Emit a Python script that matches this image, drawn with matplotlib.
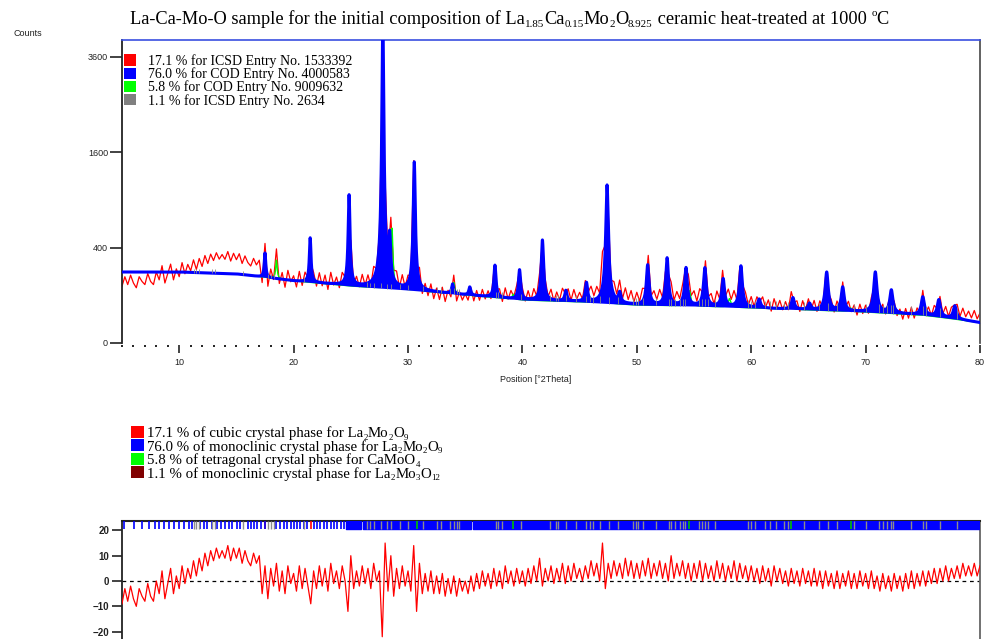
import re
import numpy as np
import matplotlib
matplotlib.use("Agg")
import matplotlib.pyplot as plt
from matplotlib.patches import Rectangle
from matplotlib.ticker import MultipleLocator, FixedLocator

SERIF = "Liberation Serif"
SANS = "Liberation Sans"
FIG_W, FIG_H = 987, 639


# ================= DATA =================
# refined background (counts) at a few positions
bg_pos = [5, 10, 15, 20, 25, 30, 35, 40, 45, 50, 55, 60, 65, 70, 75, 80]
bg_counts = [221, 221, 209, 169, 142, 123, 101, 81, 74, 63, 60, 54, 48, 42, 34, 18]

# monoclinic La2Mo2O9 (blue) peaks: position, net counts above background
mono_pos = [17.5, 21.45, 24.85, 27.8, 28.4, 30.55, 33.9, 35.4, 37.6, 39.75,
            41.75, 43.8, 45.6, 47.4, 48.5, 50.95, 52.65, 54.3, 55.95, 57.55,
            59.1, 60.7, 63.65, 65.1, 66.6, 68.0, 70.85, 72.25, 75.0, 76.4, 77.8]
mono_net = [166, 323, 818, 4470, 340, 1314, 45, 37, 174, 152,
            386, 44, 85, 1026, 40, 204, 255, 187, 188, 123,
            205, 30, 40, 20, 174, 92, 180, 84, 59, 52, 35]

# tetragonal CaMoO4 (green) peaks
camoo4_pos = [18.5, 28.6, 30.8, 34.0, 39.2, 47.1, 54.6, 58.1, 63.5, 68.7]
camoo4_net = [120, 450, 70, 55, 20, 110, 60, 30, 15, 10]

# reflection markers
cubic_refl = [17.52, 21.49, 24.87, 27.86, 30.58, 35.46, 37.69, 39.81, 41.84,
              43.80, 45.68, 47.51, 51.02, 52.70, 54.36, 55.98, 57.57, 59.13,
              60.66, 63.66, 65.14, 66.59, 68.03, 70.87, 72.27, 75.04, 76.42, 77.78]
mono_refl = [5.15, 6.08, 6.75, 7.33, 7.92, 8.21, 8.65, 9.14, 9.52, 10.02,
             10.40, 10.83, 11.12, 11.85, 12.20, 12.44, 12.87, 13.31, 13.66, 14.04,
             14.33, 14.62, 15.06, 15.35, 15.99, 16.29, 16.52, 16.81, 17.16, 17.54,
             18.50, 18.85, 19.14, 19.44, 19.73, 20.02, 20.31, 20.60, 20.89, 21.19,
             21.77, 22.06, 22.35, 22.64, 22.94, 23.23, 23.52, 23.81, 24.10, 24.39]
mono_dense = [(24.6, 1.3), (26.05, 9.45), (35.7, 44.3)]  # (start, width)
lmo_refl = [11.3, 11.5, 11.7, 12.9, 13.1, 15.6, 17.8, 18.0, 18.3, 20.9,
            26.4, 26.7, 27.0, 27.6, 28.2, 28.5, 29.3, 30.0, 31.3, 32.5,
            32.9, 33.7, 34.0, 34.3, 34.5, 37.7, 37.9, 38.2, 39.9, 42.4,
            42.9, 43.1, 43.8, 44.7, 45.6, 45.9, 46.2, 46.8, 47.6, 48.4,
            49.7, 49.9, 50.1, 50.5, 51.7, 52.8, 53.0, 53.3, 53.8, 54.0,
            54.2, 55.4, 55.7, 56.0, 56.2, 56.8, 59.7, 60.0, 60.3, 61.2,
            61.6, 62.2, 62.9, 63.2, 64.6, 65.9, 66.7, 67.5, 69.0, 70.0,
            71.2, 71.5, 71.9, 72.2, 72.4, 74.0, 75.0, 75.3, 76.5, 78.0]
lmo_net = 25
camoo4_refl = [30.8, 39.2, 54.6, 63.5, 68.7]

# difference plot, every 0.25 deg from 5 to 80
resid = [
    -9, -3, -8, -2, -7, -10, -3, -6, -8, -1, -6, -8, 0, -5, 4, -7, -1, 5, -5, 2,
    -3, 6, -1, 5, 1, 8, 2, 9, 4, 11, 6, 12, 8, 13, 9, 12, 9, 14, 8, 13,
    9, 13, 7, 12, 8, 6, 11, 7, 10, -5, 6, -7, 5, -2, 7, -4, 4, -5, 6, -1,
    3, -4, 6, -3, 5, -2, -9, 4, -3, 6, -2, 5, -4, 7, -1, 4, -3, 6, 0, -12,
    10, -3, 4, -2, 6, -1, 5, -3, 7, 0, 4, -22, 15, -4, 10, -6, 5, -3, 6, -2,
    4, -4, 14, -12, 7, -5, 3, -4, 4, -5, 2, -5, 3, -6, 1, -5, 2, -6, 1, -4,
    0, -5, 2, -4, 3, -3, 4, -2, 3, -3, 5, -2, 4, -3, 6, -1, 4, -2, 5, -1,
    4, -2, 5, -1, 6, 0, 9, -2, 5, 0, 6, -1, 5, 0, 7, -1, 6, 0, 7, 1,
    5, 0, 6, 1, 8, 2, 7, 0, 15, -3, 7, 1, 8, 2, 7, 1, 9, 2, 8, 1,
    7, 1, 8, 2, 9, 1, 7, 2, 8, 1, 7, 0, 10, 1, 7, 2, 8, 1, 7, 0,
    7, 1, 8, 0, 7, 1, 6, 0, 8, 1, 7, 0, 6, 1, 8, 0, 7, 1, 6, 0,
    6, 0, 5, -1, 6, 0, 5, -2, 6, 0, 5, -1, 4, -2, 5, -1, 4, -2, 5, -1,
    4, -2, 5, -2, 4, -3, 4, -2, 3, -3, 4, -3, 3, -2, 4, -3, 3, -3, 4, -2,
    3, -3, 4, -3, 2, -4, 3, -3, 2, -4, 3, -3, 2, -4, 3, -3, 4, -3, 3, -2,
    4, -2, 4, -1, 5, -1, 5, 0, 6, 0, 5, 1, 6, 1, 7, 2, 6, 2, 7, 2,
    6,
]

title = ("La-Ca-Mo-O sample for the initial composition of "
         "La_{1.85}Ca_{0.15}Mo_{2}O_{8.925} ceramic heat-treated at 1000 ^{o}C")
top_legend = [
    ("#ff0000", "17.1 % for ICSD Entry No. 1533392"),
    ("#0000ff", "76.0 % for COD Entry No. 4000583"),
    ("#00ff00", "5.8 % for COD Entry No. 9009632"),
    ("#808080", "1.1 % for ICSD Entry No. 2634"),
]
phase_legend = [
    ("#ff0000", "17.1 % of cubic crystal phase for La_{2}Mo_{2}O_{9}"),
    ("#0000ff", "76.0 % of monoclinic crystal phase for La_{2}Mo_{2}O_{9}"),
    ("#00ff00", "5.8 % of tetragonal crystal phase for CaMoO_{4}"),
    ("#800000", "1.1 % of monoclinic crystal phase for La_{2}Mo_{3}O_{12}"),
]


# ================= PATTERN =================
def peak_sum(x, pos, net):
    total = np.zeros_like(x)
    for p, h in zip(pos, net):
        hw = 0.05 + 0.00125 * p
        total += h / (1 + ((x - p) / hw) ** 2)
    return total


two_theta = np.linspace(5, 80, 6001)
background = np.interp(two_theta, bg_pos, bg_counts)
blue_calc = background + peak_sum(two_theta, mono_pos, mono_net)
green_calc = background + peak_sum(two_theta, camoo4_pos, camoo4_net)

# observed profile at the difference-plot steps
resid = np.array(resid, dtype=float)
resid_x = 5 + 0.25 * np.arange(len(resid))
calc_at_steps = (np.interp(resid_x, bg_pos, bg_counts)
                 + peak_sum(resid_x, mono_pos, mono_net)
                 + peak_sum(resid_x, camoo4_pos, camoo4_net))
observed = (np.sqrt(calc_at_steps) + 0.33 * resid) ** 2


# ================= FIGURE =================
fig = plt.figure(figsize=(FIG_W / 100, FIG_H / 100), dpi=100)
renderer = fig.canvas.get_renderer()


def rich_text(x_px, base_px, text, size, family=SERIF):
    # plain text with small sub/superscripts, laid out piece by piece
    x = x_px
    for piece in re.split(r"([_^]\{[^}]*\})", text):
        if not piece:
            continue
        fs, dy = size, 0.0
        if piece.startswith("_{"):
            piece, fs, dy = piece[2:-1], size * 0.6, -0.17 * size
        elif piece.startswith("^{"):
            piece, fs, dy = piece[2:-1], size * 0.6, 0.42 * size
        t = fig.text(x / FIG_W, 1 - (base_px - dy * 100 / 72) / FIG_H, piece,
                     ha="left", va="baseline", family=family, fontsize=fs)
        x = t.get_window_extent(renderer).x1


L, W = 122 / FIG_W, 858 / FIG_W

ax = fig.add_axes([L, 1 - 343 / FIG_H, W, 303 / FIG_H])
ax.set_yscale("function", functions=(lambda v: np.sqrt(np.clip(v, 0, None)),
                                     lambda v: np.square(v)))
ax.set_xlim(5, 80)
ax.set_ylim(0, 4027)

ax.plot(resid_x, observed, color="#ff0000", lw=0.9, zorder=2)
ax.plot(two_theta, green_calc, color="#00ff00", lw=1.0, zorder=3)
ax.fill_between(two_theta, background, blue_calc, color="#0000ff", lw=0, zorder=4)
ax.plot(two_theta, blue_calc, color="#0000ff", lw=2.2, zorder=5)
lmo_bg = np.interp(lmo_refl, bg_pos, bg_counts)
ax.vlines(lmo_refl, lmo_bg, lmo_bg + lmo_net, color="#8c8c8c", lw=0.6, zorder=6)

ax.spines["bottom"].set_visible(False)
ax.spines["bottom"].set_position(("outward", 1.5))
ax.spines["left"].set_linewidth(1.3)
ax.spines["left"].set_color("#222222")
ax.spines["right"].set_linewidth(1.3)
ax.spines["right"].set_color("#555555")
ax.spines["top"].set_linewidth(1.2)
ax.spines["top"].set_color("#3a4fe0")

ax.yaxis.set_major_locator(FixedLocator([0, 400, 1600, 3600]))
ax.set_yticklabels(["0", "400", "1600", "3600"])
ax.yaxis.set_minor_locator(FixedLocator([]))
ax.xaxis.set_major_locator(FixedLocator(range(10, 81, 10)))
ax.xaxis.set_minor_locator(MultipleLocator(1))
ax.tick_params(axis="y", length=8.5, width=1.2, pad=1.5, labelsize=6.5,
               color="#222222", labelcolor="#222222")
ax.tick_params(axis="x", which="major", length=5.5, width=1.2, pad=4,
               labelsize=6.5, color="#222222", labelcolor="#222222")
ax.tick_params(axis="x", which="minor", length=1.5, width=1.4, color="#222222")
for t in ax.get_xticklabels() + ax.get_yticklabels():
    t.set_family(SANS)

fig.text(536 / FIG_W, 1 - 380 / FIG_H, "Position [°2Theta]", ha="center", va="center",
         family=SANS, fontsize=6.5, color="#222222")
fig.text(14 / FIG_W, 1 - 33 / FIG_H, "Counts", ha="left", va="center",
         family=SANS, fontsize=6.5, color="#222222")
rich_text(130, 24, title, 13.2)

# legend inside top panel
for i, (c, label) in enumerate(top_legend):
    base = 65 + 13.2 * i
    fig.add_artist(Rectangle((124 / FIG_W, 1 - (base + 0.5) / FIG_H), 12 / FIG_W, 11 / FIG_H,
                             transform=fig.transFigure, color=c, lw=0))
    rich_text(148, base, label, 10)

# phase legend
for i, (c, label) in enumerate(phase_legend):
    base = 437 + 13.6 * i
    fig.add_artist(Rectangle((131 / FIG_W, 1 - (base + 0.5) / FIG_H), 13 / FIG_W, 12 / FIG_H,
                             transform=fig.transFigure, color=c, lw=0))
    rich_text(147.5, base, label, 10.7)

# ================= DIFFERENCE =================
ax2 = fig.add_axes([L, 0.0, W, 1 - 521 / FIG_H])
ax2.set_xlim(5, 80)
ax2.set_ylim(-22.9, 23.7)
ax2.plot(resid_x, resid, color="#ff0000", lw=0.9, zorder=3)
ax2.axhline(0, color="black", lw=0.9, ls=(0, (3, 3)), zorder=2)

band = (20.4, 23.7)
ax2.vlines(cubic_refl, *band, color="#ff0000", lw=1.2, zorder=4)
ax2.vlines(mono_refl, *band, color="#0000ff", lw=1.2, zorder=5)
ax2.broken_barh(mono_dense, (band[0], band[1] - band[0]), color="#0000ff", zorder=5)
ax2.vlines(lmo_refl, *band, color="#8c8c8c", lw=1.0, zorder=6)
ax2.vlines(camoo4_refl, *band, color="#00c000", lw=1.2, zorder=7)

ax2.spines["bottom"].set_visible(False)
ax2.spines["left"].set_linewidth(1.3)
ax2.spines["left"].set_color("#222222")
ax2.spines["top"].set_linewidth(1.5)
ax2.spines["top"].set_color("#222222")
ax2.spines["right"].set_linewidth(1.3)
ax2.spines["right"].set_color("#666666")
ax2.set_xticks([])
ax2.set_yticks([-20, -10, 0, 10, 20])
ax2.tick_params(axis="y", length=7, width=1.2, pad=2, labelsize=7,
                color="#222222", labelcolor="#222222")
for t in ax2.get_yticklabels():
    t.set_family(SANS)
    t.set_fontweight("bold")

fig.savefig("out.png", dpi=100)
